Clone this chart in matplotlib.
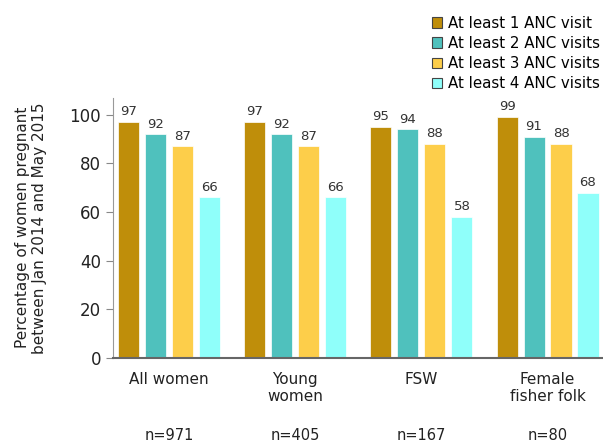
import numpy as np
import matplotlib
matplotlib.use("Agg")
import matplotlib.pyplot as plt

groups = ["All women", "Young\nwomen", "FSW", "Female\nfisher folk"]
sizes = ["n=971", "n=405", "n=167", "n=80"]
series = ["At least 1 ANC visit", "At least 2 ANC visits",
          "At least 3 ANC visits", "At least 4 ANC visits"]
visit1 = [97, 97, 95, 99]
visit2 = [92, 92, 94, 91]
visit3 = [87, 87, 88, 88]
visit4 = [66, 66, 58, 68]
colors = ["#BF8E0A", "#4FC1BD", "#FDCE4A", "#8FFFFA"]

plt.rcParams['font.family'] = ['DejaVu Sans']
fig = plt.figure(figsize=(6.03, 4.44), dpi=100)
ax = fig.add_axes([0.187, 0.194, 0.813, 0.586])

x = np.arange(len(groups))
step = 0.214
width = 0.167
offsets = [-1.5 * step, -0.5 * step, 0.5 * step, 1.5 * step]
handles = []
for vals, off, c, lab in zip([visit1, visit2, visit3, visit4], offsets, colors, series):
    b = ax.bar(x + off, vals, width, color=c, label=lab, edgecolor="white", linewidth=0.5)
    handles.append(b)
    for xi, v in zip(x + off, vals):
        ax.text(xi, v + 1.5, str(v), ha="center", va="bottom", fontsize=9.5, color="#333333")

ax.set_xlim(-0.448, 3.44)
ax.set_ylim(0, 107)
ax.set_yticks([0, 20, 40, 60, 80, 100])
ax.tick_params(axis="y", labelsize=12, labelcolor="#222222", color="#888888",
               length=5, direction="out")
ax.set_xticks(x)
ax.set_xticklabels(groups, fontsize=11, color="#222222", linespacing=1.2, va="top")
ax.tick_params(axis="x", length=0, pad=10)
for xi, n in zip(x, sizes):
    ax.text(xi, -0.298, n, transform=ax.get_xaxis_transform(), ha="center", va="center",
            fontsize=10.5, color="#222222")

for s in ["top", "right"]:
    ax.spines[s].set_visible(False)
ax.spines["left"].set_color("#999999")
ax.spines["bottom"].set_color("#666666")
ax.spines["bottom"].set_linewidth(1.5)

ax.set_ylabel("Percentage of women pregnant\nbetween Jan 2014 and May 2015",
              fontsize=11, color="#222222", labelpad=16)

leg = fig.legend(handles=handles, labels=series, loc="upper right",
                 bbox_to_anchor=(1.01, 0.985), frameon=False, fontsize=10.8,
                 handlelength=0.7, handleheight=0.7, handletextpad=0.4,
                 labelspacing=0.35, borderaxespad=0.2)
for h in leg.legend_handles:
    h.set_edgecolor("#444444")
    h.set_linewidth(0.8)

fig.savefig("out.png", dpi=100)
